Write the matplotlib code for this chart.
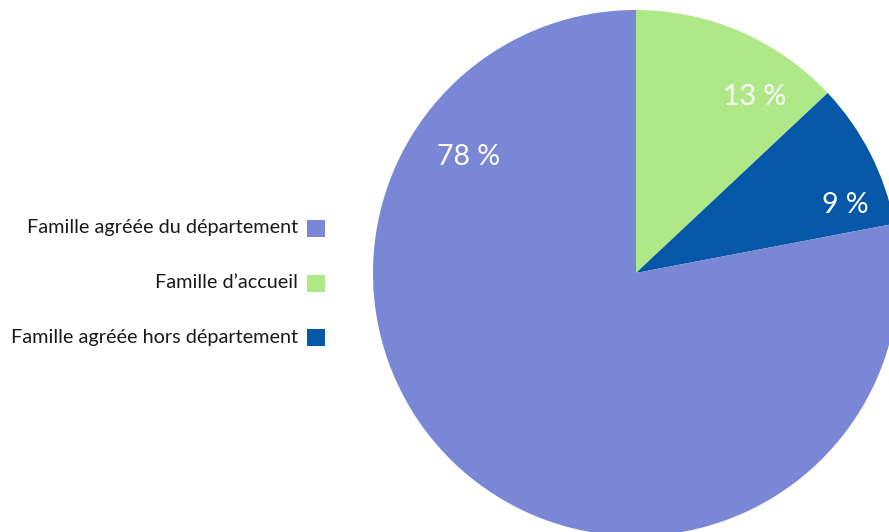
import matplotlib
matplotlib.use("Agg")
import matplotlib.pyplot as plt
from matplotlib.patches import Rectangle

# Data
categories = ["Famille d\u2019accueil", "Famille agréée hors département", "Famille agréée du département"]
shares = [13, 9, 78]
colors = ["#AEE887", "#0558A8", "#7A86D6"]
legend_order = ["Famille agréée du département", "Famille d\u2019accueil", "Famille agréée hors département"]

plt.rcParams["font.family"] = ["Lato", "DejaVu Sans"]

W, H = 889, 532
fig = plt.figure(figsize=(W / 100, H / 100), dpi=100)
ax = fig.add_axes([0, 0, 1, 1])

cx, cy, r = 636, H - 273, 263
wedges, _ = ax.pie(shares, colors=colors, startangle=90, counterclock=False,
                   center=(cx, cy), radius=r, frame=True,
                   wedgeprops=dict(linewidth=0))
ax.set_xlim(0, W)
ax.set_ylim(0, H)
ax.set_aspect("equal")
ax.axis("off")

# Percentage labels inside the slices
label_pos = {"Famille d\u2019accueil": (755, 97),
             "Famille agréée hors département": (845, 205),
             "Famille agréée du département": (469, 157)}
for cat, val in zip(categories, shares):
    x, y = label_pos[cat]
    ax.text(x, H - y, f"{val} %", color="white", fontsize=20.5,
            ha="center", va="center")

# Legend on the left: right-aligned labels with colour squares
leg_y = [228, 283, 337]
color_of = dict(zip(categories, colors))
for cat, y in zip(legend_order, leg_y):
    ax.add_patch(Rectangle((307, H - y - 8.5), 18, 17, facecolor=color_of[cat],
                           edgecolor="none"))
    ax.text(298, H - y, cat, fontsize=14.3, color="#1a1a1a", ha="right", va="center")

fig.savefig("out.png", dpi=100)
